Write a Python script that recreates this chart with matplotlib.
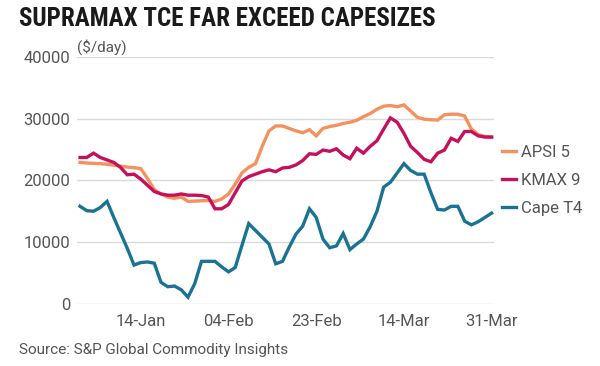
import matplotlib
matplotlib.use("Agg")
import matplotlib.pyplot as plt
import numpy as np
import pandas as pd


# Platts assessment days, 2022 (Singapore holidays 1-2 Feb removed)
DAYS = [d for d in pd.bdate_range("2022-01-03", "2022-03-31")
        if d.strftime("%m-%d") not in ("02-01", "02-02")]

APSI_5 = [
    22900, 22800, 22750, 22700, 22600, 22450, 22300, 22150, 22050, 21900,
    20300, 18500, 17800, 17300, 17100, 17300, 16600, 16650, 16700, 16750,
    16600, 17000, 17800, 19400, 21200, 22100, 22700, 25500, 28000, 28800,
    28800, 28400, 28000, 27700, 28200, 27200, 28400, 28700, 28900, 29200,
    29400, 29700, 30300, 30800, 31500, 32000, 32100, 31900, 32200, 31200,
    30200, 29900, 29800, 29750, 30600, 30700, 30700, 30400, 28300, 27400,
    27100, 27000,
]
KMAX_9 = [
    23700, 23700, 24400, 23700, 23300, 22900, 22100, 20900, 21000, 20200,
    19200, 18200, 17800, 17600, 17600, 17800, 17600, 17600, 17550, 17300,
    15400, 15400, 16100, 18000, 19900, 20600, 21000, 21400, 21700, 21400,
    22000, 22100, 22500, 23200, 24300, 24200, 24900, 24700, 25100, 24100,
    23500, 25200, 24400, 25500, 26400, 28300, 30100, 29400, 27600, 25500,
    24500, 23400, 23000, 24400, 24900, 26800, 26300, 27900, 27900, 27200,
    27000, 27000,
]
CAPE_T4 = [
    15800, 15100, 15000, 15600, 16600, 14000, 11500, 9000, 6300, 6700,
    6800, 6600, 3500, 2800, 2900, 2300, 1100, 3300, 6900, 6900,
    6900, 6000, 5200, 5900, 9500, 13000, 11900, 10800, 9700, 6500,
    6900, 9200, 11300, 12600, 15400, 14000, 10500, 9100, 9400, 11400,
    8800, 9700, 10500, 12500, 15000, 18900, 19700, 21200, 22700, 21600,
    21000, 21000, 18000, 15300, 15200, 15800, 15800, 13400, 12800, 13300,
    14000, 14700,
]

SERIES = ["APSI 5", "KMAX 9", "Cape T4"]
COLORS = ["#F4915E", "#C5105C", "#1A7393"]
Y_TICKS = [0, 10000, 20000, 30000, 40000]

GRAY = "#555555"
plt.rcParams["font.family"] = ["Roboto", "DejaVu Sans"]


def main() -> None:
    x = np.arange(len(DAYS))
    fig = plt.figure(figsize=(6.0, 3.66), dpi=100)
    ax = fig.add_axes([77 / 600, 1 - 304 / 366, 417 / 600, (304 - 56.7) / 366])

    for name, values, col in zip(SERIES, [APSI_5, KMAX_9, CAPE_T4], COLORS):
        ax.plot(x, values, color=col, linewidth=2.4, label=name,
                solid_joinstyle="miter", zorder=3)

    ax.set_ylim(0, 40000)
    ax.set_xlim(-0.45, len(DAYS) - 1 + 0.35)
    ax.set_yticks(Y_TICKS)
    ax.set_yticklabels([str(v) for v in Y_TICKS])
    tick_idx = list(range(len(DAYS) - 1, -1, -13))[::-1]
    ax.set_xticks(tick_idx)
    ax.set_xticklabels([DAYS[i].strftime("%d-%b") for i in tick_idx])
    ax.grid(axis="y", color="#DADADA", linewidth=1.0, zorder=0)
    ax.grid(axis="x", visible=False)
    for spine in ax.spines.values():
        spine.set_visible(False)
    ax.tick_params(axis="both", length=0, colors=GRAY, labelsize=12)
    ax.tick_params(axis="y", pad=5)
    ax.tick_params(axis="x", pad=7)

    ax.text(0, 1.008, "($/day)", transform=ax.transAxes, fontsize=11,
            color=GRAY, ha="left", va="bottom")

    ax.legend(loc="upper left", bbox_to_anchor=(502 / 600, 1 - 145 / 366),
              bbox_transform=fig.transFigure, frameon=False, fontsize=12,
              handlelength=0.85, handletextpad=0.3, labelspacing=0.78,
              borderpad=0, borderaxespad=0, labelcolor=GRAY)

    fig.text(19 / 600, 1 - 19 / 366, "SUPRAMAX TCE FAR EXCEED CAPESIZES",
             family=["Liberation Sans Narrow", "Roboto Condensed", "DejaVu Sans"],
             fontweight="bold", fontsize=18, color="#1a1a1a",
             ha="left", va="center")
    fig.text(19 / 600, 1 - 350 / 366, "Source: S&P Global Commodity Insights",
             fontsize=11, color=GRAY, ha="left", va="center")

    fig.savefig("out.png", dpi=100)


if __name__ == "__main__":
    main()
